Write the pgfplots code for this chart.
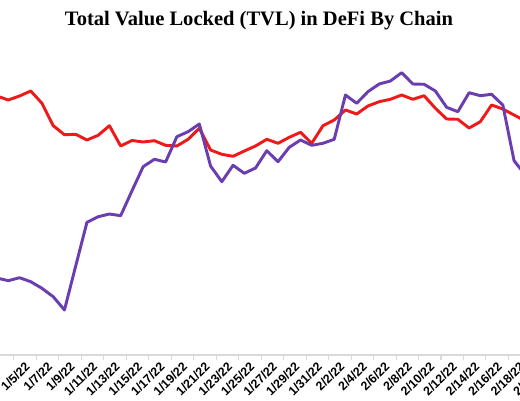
\documentclass[border=0pt]{standalone}
\usepackage{pgfplots}
\usepackage{pgfplotstable}
\pgfplotsset{compat=1.18}
\usepackage{fontspec}
\setmainfont{Liberation Serif}
\newfontfamily\labfont{Liberation Sans}
\definecolor{tvlred}{HTML}{EE1A1A}
\definecolor{tvlpurple}{HTML}{6A3DB0}
\definecolor{axgray}{HTML}{D9D9D9}

% day of year (1/1 = 1), value in relative units
\pgfplotstableread{
day val
3 259
4 255
5 259
6 264
7 251.7
8 229.3
9 220.3
10 220.7
11 215
12 219.7
13 229.3
14 209
15 214.5
16 213
17 214.3
18 209.7
19 209
20 215.7
21 226.7
22 205
23 200.7
24 198.7
25 204
26 209
27 215.7
28 211.7
29 217.7
30 222.7
31 211.7
32 229.3
33 235
34 245
35 241
36 249
37 253.3
38 255.7
39 260
40 255.7
41 259.3
42 246.7
43 236
44 235.7
45 227
46 233.3
47 250
48 246
49 240
50 234
}\redtable

\pgfplotstableread{
day val
3 77
4 74.3
5 77.3
6 73.3
7 66.7
8 58.3
9 45
10 89
11 132.7
12 138.3
13 141
14 139.3
15 164
16 188.3
17 195.7
18 193
19 218.3
20 223.3
21 231
22 189
23 173.3
24 189.7
25 181.7
26 187
27 204.3
28 193.3
29 207.7
30 215
31 209.7
32 211.7
33 215.7
34 260
35 251.7
36 263.3
37 271
38 274
39 282.3
40 271
41 270.7
42 264
43 247.7
44 243.3
45 262.3
46 259.3
47 260.7
48 250
49 194.3
50 180
}\purpletable

\begin{document}
\begin{tikzpicture}
\begin{axis}[
  at={(-10.665pt,33.75pt)}, anchor=south west,
  scale only axis,
  width=421.5pt, height=266.25pt,
  xmin=2, xmax=52, ymin=0, ymax=355,
  axis x line*=bottom,
  hide y axis,
  axis line style={draw=axgray, line width=0.8pt},
  xtick={5,7,...,51},
  xticklabels={1/5/22,1/7/22,1/9/22,1/11/22,1/13/22,1/15/22,1/17/22,1/19/22,1/21/22,1/23/22,1/25/22,1/27/22,1/29/22,1/31/22,2/2/22,2/4/22,2/6/22,2/8/22,2/10/22,2/12/22,2/14/22,2/16/22,2/18/22,2/20/22},
  minor xtick={4.5,6.5,...,50.5},
  major tick length=0pt,
  minor tick length=3.75pt,
  tick align=outside,
  tick style={draw=axgray, line width=0.8pt},
  xticklabel style={rotate=45, anchor=north east, inner sep=0.5pt, yshift=-5pt, font=\labfont\bfseries\fontsize{9.3}{10}\selectfont},
  every axis plot/.append style={line width=2.2pt, line join=round, no markers},
]
\addplot[color=tvlred] table[x=day, y=val] {\redtable};
\addplot[color=tvlpurple] table[x=day, y=val] {\purpletable};
\end{axis}
\node[anchor=base, font=\bfseries\fontsize{15.4}{18}\selectfont] at (194.25pt,280.5pt) {Total Value Locked (TVL) in DeFi By Chain};
\pgfresetboundingbox
\path[use as bounding box] (0,0) rectangle (390pt,300pt);
\end{tikzpicture}
\end{document}
